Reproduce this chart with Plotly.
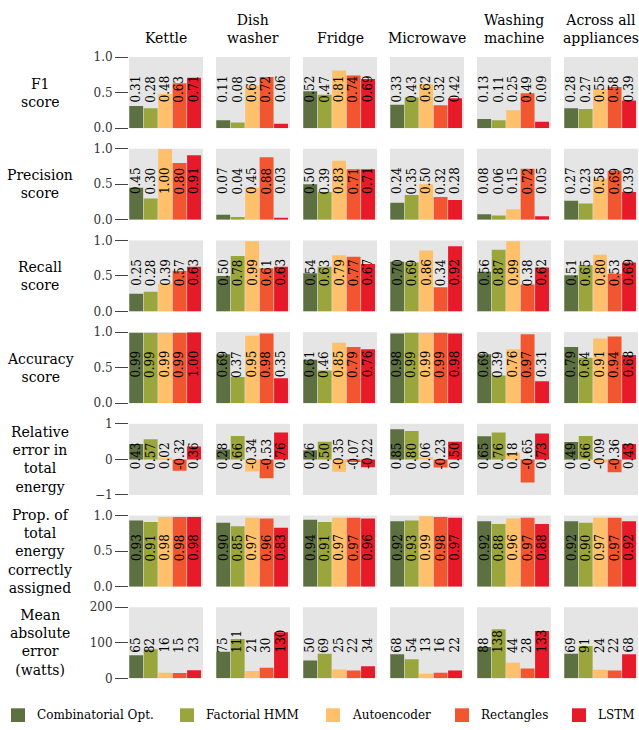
import plotly.graph_objects as go

appliances = ["Kettle", "Dish<br>washer", "Fridge", "Microwave", "Washing<br>machine", "Across all<br>appliances"]
methods = ["Combinatorial Opt.", "Factorial HMM", "Autoencoder", "Rectangles", "LSTM"]
colors = ["#5D7042", "#9AA63C", "#FEC06A", "#F25630", "#E61A28"]
row_labels = ["F1<br>score", "Precision<br>score", "Recall<br>score", "Accuracy<br>score",
              "Relative<br>error in<br>total<br>energy",
              "Prop. of<br>total<br>energy<br>correctly<br>assigned",
              "Mean<br>absolute<br>error<br>(watts)"]

f1 = [[0.31, 0.28, 0.48, 0.63, 0.71], [0.11, 0.08, 0.60, 0.72, 0.06], [0.52, 0.47, 0.81, 0.74, 0.69],
      [0.33, 0.43, 0.62, 0.32, 0.42], [0.13, 0.11, 0.25, 0.49, 0.09], [0.28, 0.27, 0.55, 0.58, 0.39]]
precision = [[0.45, 0.30, 1.00, 0.80, 0.91], [0.07, 0.04, 0.45, 0.88, 0.03], [0.50, 0.39, 0.83, 0.71, 0.71],
             [0.24, 0.35, 0.50, 0.32, 0.28], [0.08, 0.06, 0.15, 0.72, 0.05], [0.27, 0.23, 0.58, 0.69, 0.39]]
recall = [[0.25, 0.28, 0.39, 0.57, 0.63], [0.50, 0.78, 0.99, 0.61, 0.63], [0.54, 0.63, 0.79, 0.77, 0.67],
          [0.70, 0.69, 0.86, 0.34, 0.92], [0.56, 0.87, 0.99, 0.38, 0.62], [0.51, 0.65, 0.80, 0.53, 0.69]]
accuracy = [[0.99, 0.99, 0.99, 0.99, 1.00], [0.69, 0.37, 0.95, 0.98, 0.35], [0.61, 0.46, 0.85, 0.79, 0.76],
            [0.98, 0.99, 0.99, 0.99, 0.98], [0.69, 0.39, 0.76, 0.97, 0.31], [0.79, 0.64, 0.91, 0.94, 0.68]]
rel_error = [[0.43, 0.57, 0.02, -0.32, 0.36], [0.28, 0.66, -0.34, -0.53, 0.76], [0.26, 0.50, -0.35, -0.07, -0.22],
             [0.85, 0.80, 0.06, -0.23, 0.50], [0.65, 0.76, 0.18, -0.65, 0.73], [0.49, 0.66, -0.09, -0.36, 0.43]]
prop_assigned = [[0.93, 0.91, 0.98, 0.98, 0.98], [0.90, 0.85, 0.97, 0.96, 0.83], [0.94, 0.91, 0.97, 0.97, 0.96],
                 [0.92, 0.93, 0.99, 0.98, 0.97], [0.92, 0.88, 0.96, 0.97, 0.88], [0.92, 0.90, 0.97, 0.97, 0.92]]
mae = [[65, 82, 16, 15, 23], [75, 111, 21, 30, 130], [50, 69, 25, 22, 34],
       [68, 54, 13, 16, 22], [88, 138, 44, 28, 133], [69, 91, 24, 22, 68]]

metrics = [f1, precision, recall, accuracy, rel_error, prop_assigned, mae]
y_ranges = [[0, 1], [0, 1], [0, 1], [0, 1], [-1, 1], [0, 1], [0, 200]]
y_tickvals = [[0, 0.5, 1], [0, 0.5, 1], [0, 0.5, 1], [0, 0.5, 1], [-1, 0, 1], [0, 0.5, 1], [0, 100, 200]]
y_ticktext = [["0.0", "0.5", "1.0"]] * 4 + [["\u22121", "0", "1"], ["0.0", "0.5", "1.0"], ["0", "100", "200"]]
label_fmt = ["{:.2f}"] * 6 + ["{:d}"]

W, H = 639, 730
FONT = "DejaVu Serif"
col_x0 = [129 + 87 * c for c in range(6)]
col_w = 74
row_y0 = [51 + 93.5 * r for r in range(7)]
row_h = 72.5

fig = go.Figure()
layout = {}
annotations = []

for r, data in enumerate(metrics):
    for c in range(6):
        k = r * 6 + c + 1
        xa = "x" if k == 1 else f"x{k}"
        ya = "y" if k == 1 else f"y{k}"
        vals = data[c]
        for i, m in enumerate(methods):
            fig.add_trace(go.Bar(x=[i], y=[vals[i]], marker=dict(color=colors[i], line=dict(width=0)),
                                 xaxis=xa, yaxis=ya, showlegend=False, name=m, hoverinfo="skip"))
            annotations.append(dict(xref=xa, yref=f"{ya} domain", x=i, y=0.33, yanchor="bottom",
                                    xanchor="center", textangle=-90, showarrow=False,
                                    text=label_fmt[r].format(vals[i]),
                                    font=dict(family=FONT, size=12, color="black")))
        x0 = col_x0[c]
        y0 = row_y0[r]
        layout["xaxis" if k == 1 else f"xaxis{k}"] = dict(
            domain=[x0 / W, (x0 + col_w) / W], range=[-0.5, 4.62], showticklabels=False,
            ticks="", showgrid=False, zeroline=False, showline=False, anchor=ya, fixedrange=True)
        layout["yaxis" if k == 1 else f"yaxis{k}"] = dict(
            domain=[1 - (y0 + row_h) / H, 1 - y0 / H], range=y_ranges[r], anchor=xa,
            showgrid=False, zeroline=False, showline=False,
            tickvals=y_tickvals[r], ticktext=y_ticktext[r],
            showticklabels=(c == 0), ticks="outside" if c == 0 else "",
            ticklen=13, tickwidth=1, tickcolor="#444",
            tickfont=dict(family=FONT, size=12, color="#333"), fixedrange=True)

# column titles
for c, name in enumerate(appliances):
    annotations.append(dict(xref="paper", yref="paper", x=(col_x0[c] + col_w / 2) / W, y=1 - 42 / H,
                            xanchor="center", yanchor="bottom", showarrow=False, text=name,
                            font=dict(family=FONT, size=14, color="black")))
# row labels
for r, name in enumerate(row_labels):
    annotations.append(dict(xref="paper", yref="paper", x=40 / W, y=1 - (row_y0[r] + row_h / 2) / H,
                            xanchor="center", yanchor="middle", showarrow=False, text=name,
                            font=dict(family=FONT, size=14, color="black")))

# legend
legend_x = [11, 180, 326, 455, 572]
shapes = []
for i, m in enumerate(methods):
    sx = legend_x[i]
    shapes.append(dict(type="rect", xref="paper", yref="paper", x0=sx / W, x1=(sx + 14) / W,
                       y0=1 - 729 / H, y1=1 - 715 / H, fillcolor=colors[i], line=dict(width=0)))
    annotations.append(dict(xref="paper", yref="paper", x=(sx + 24) / W, y=1 - 722 / H,
                            xanchor="left", yanchor="middle", showarrow=False, text=m,
                            font=dict(family=FONT, size=12, color="black")))

fig.update_layout(**layout)
fig.update_layout(width=W, height=H, margin=dict(l=0, r=0, t=0, b=0),
                  paper_bgcolor="white", plot_bgcolor="#E5E5E5", bargap=0.04,
                  showlegend=False, annotations=annotations, shapes=shapes,
                  font=dict(family=FONT))

fig.write_html("out.html")
